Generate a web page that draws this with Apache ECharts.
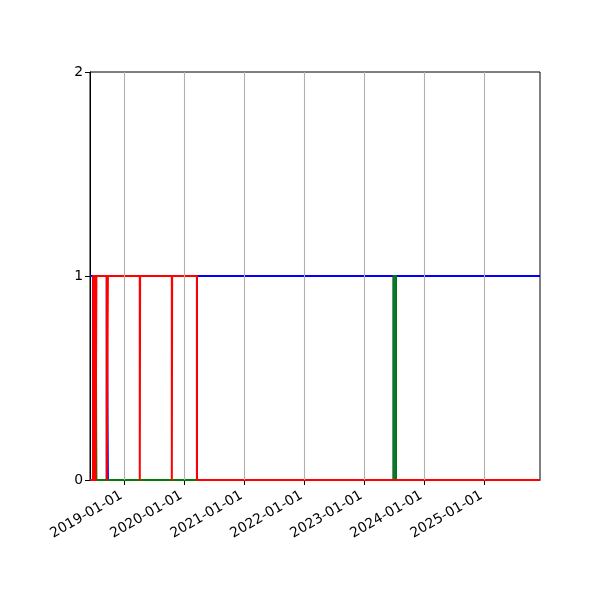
<!DOCTYPE html>
<html>
<head>
<meta charset="utf-8">
<script src="https://cdn.jsdelivr.net/npm/echarts@6/dist/echarts.min.js"></script>
<style>html,body{margin:0;padding:0;background:#fff}#c{width:600px;height:600px}</style>
</head>
<body>
<div id="c"></div>
<script>
// State change dates (which series is "on" from that date; 'none' = all off)
const changeDates = ['2018-06-08','2018-06-27','2018-07-03','2018-07-07','2018-07-12','2018-07-17','2018-09-18','2018-09-25','2019-04-07','2019-04-09','2019-10-19','2019-10-21','2020-03-20','2023-06-30','2023-07-14'];
const changeStates = ['blue','red','green','red','green','red','blue','red','none','red','none','red','blue','green','blue'];
const endDate = '2025-12-07';
const seriesNames = ['blue','green','red'];
const seriesColors = ['#0000ff','#008000','#ff0000'];
const tickDates = ['2019-01-01','2020-01-01','2021-01-01','2022-01-01','2023-01-01','2024-01-01','2025-01-01'];
const yTicks = [0,1,2];

function ts(s){const p=s.split('-').map(Number);return Date.UTC(p[0],p[1]-1,p[2]);}
function fmt(v){const d=new Date(v);const m=String(d.getUTCMonth()+1).padStart(2,'0');const dd=String(d.getUTCDate()).padStart(2,'0');return d.getUTCFullYear()+'-'+m+'-'+dd;}

const tickTs = tickDates.map(ts);
const font = 'DejaVu Sans';

const series = [{
  type:'line', data:[], z:1, silent:true,
  markLine:{silent:true, symbol:['none','none'], label:{show:false}, animation:false,
    lineStyle:{color:'#b0b0b0', width:1.1, type:'solid'},
    data: tickTs.map(t=>({xAxis:t}))}
}];
seriesNames.forEach((name,k)=>{
  const data = changeDates.map((d,i)=>[ts(d), changeStates[i]===name?1:0]);
  data.push([ts(endDate), changeStates[changeStates.length-1]===name?1:0]);
  series.push({type:'line', name:name, step:'end', data:data, showSymbol:false, symbol:'none',
    z:2+k, lineStyle:{color:seriesColors[k], width:2, join:'round', cap:'butt'}, itemStyle:{color:seriesColors[k]}});
});

const chart = echarts.init(document.getElementById('c'), null, {renderer:'canvas'});
chart.setOption({
  animation:false,
  backgroundColor:'#fff',
  grid:{left:90, right:60, top:72, bottom:120, show:true, borderColor:'#000', borderWidth:1, containLabel:false},
  xAxis:{type:'value', min:ts(changeDates[0]), max:ts(endDate),
    axisLine:{show:true, lineStyle:{color:'#000', width:1}},
    splitLine:{show:false},
    axisTick:{show:true, inside:false, length:5, lineStyle:{color:'#000', width:1}, customValues:tickTs},
    axisLabel:{show:true, rotate:30, customValues:tickTs, formatter:v=>fmt(v), color:'#000', fontFamily:font, fontSize:13.9, margin:13, padding:[0,3,0,0]}
  },
  yAxis:{type:'value', min:0, max:2, interval:1,
    axisLine:{show:true, lineStyle:{color:'#000', width:1}},
    splitLine:{show:false},
    axisTick:{show:true, length:5, lineStyle:{color:'#000', width:1}},
    axisLabel:{color:'#000', fontFamily:font, fontSize:13.9, margin:7, formatter:v=>String(v)}
  },
  series:series
});
</script>
</body>
</html>
